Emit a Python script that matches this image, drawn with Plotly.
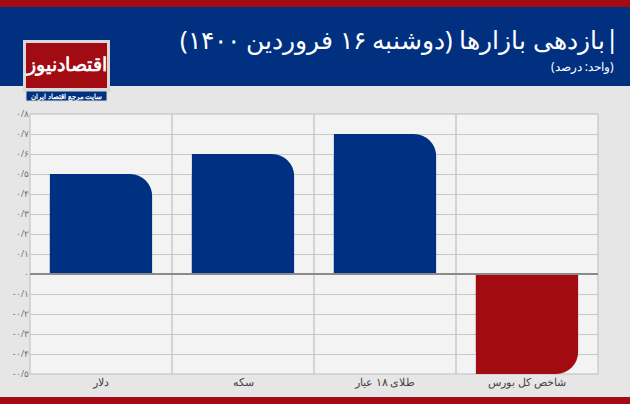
import plotly.graph_objects as go

# data
categories = ["دلار", "سکه", "طلای ۱۸ عیار", "شاخص کل بورس"]
values = [0.5, 0.6, 0.7, -0.5]
bar_colors = ["#003082", "#003082", "#003082", "#a30b12"]
tick_vals = [0.8, 0.7, 0.6, 0.5, 0.4, 0.3, 0.2, 0.1, 0, -0.1, -0.2, -0.3, -0.4, -0.5]
tick_text = ["۰/۸", "۰/۷", "۰/۶", "۰/۵", "۰/۴", "۰/۳", "۰/۲", "۰/۱", "۰",
             "-۰/۱", "-۰/۲", "-۰/۳", "-۰/۴", "-۰/۵"]

FONT = "Noto Sans"

fig = go.Figure()
# rounded bar (only the right corner should be rounded) ...
fig.add_trace(go.Bar(x=categories, y=values, marker_color=bar_colors,
                     marker_line_width=0, width=0.72))
# ... so cover the left half with a square one
fig.add_trace(go.Bar(x=categories, y=values, marker_color=bar_colors,
                     marker_line_width=0, width=0.4, offset=-0.36,
                     marker_cornerradius=0))


def py(p):  # pixel y -> paper y
    return (374 - p) / 260.0


def px_(p):  # pixel x -> paper x
    return (p - 30) / 568.0


shapes = [
    dict(type="rect", x0=px_(0), x1=px_(630), y0=py(86), y1=py(0),
         fillcolor="#00307f", line_width=0, layer="below"),
    dict(type="rect", x0=px_(0), x1=px_(630), y0=py(7), y1=py(0),
         fillcolor="#a30b12", line_width=0),
    dict(type="rect", x0=px_(0), x1=px_(630), y0=py(404), y1=py(397),
         fillcolor="#a30b12", line_width=0),
    dict(type="rect", x0=px_(23), x1=px_(110), y0=py(92), y1=py(40),
         fillcolor="#d9d9d9", line_width=0),
    dict(type="rect", x0=px_(26), x1=px_(107), y0=py(88), y1=py(43),
         fillcolor="#a30b12", line_width=0),
    dict(type="rect", x0=px_(26), x1=px_(107), y0=py(101), y1=py(91),
         fillcolor="#00307f", line=dict(color="#d9d9d9", width=1)),
]
for s in shapes:
    s.update(xref="paper", yref="paper")
for i in range(1, len(categories)):
    shapes.append(dict(type="line", xref="x", yref="paper", x0=i - 0.5, x1=i - 0.5, y0=0, y1=1,
                       line=dict(color="#b5b5b5", width=1), layer="below"))
shapes.append(dict(type="rect", xref="paper", yref="paper", x0=0, x1=1, y0=0, y1=1,
                   line=dict(color="#bdbdbd", width=1), layer="below"))
shapes.append(dict(type="line", xref="paper", yref="y", x0=0, x1=1, y0=0, y1=0,
                   line=dict(color="#8a8a8a", width=2)))

ann = [
    dict(text="|", x=px_(621), y=py(38), xanchor="right", yanchor="middle",
         font=dict(size=26, color="white", family=FONT)),
    dict(text="بازدهی بازارها (دوشنبه ۱۶ فروردین ۱۴۰۰)", x=px_(607), y=py(39), xanchor="right",
         yanchor="middle", font=dict(size=25, color="white", family=FONT)),
    dict(text="(واحد: درصد)", x=px_(616), y=py(66), xanchor="right", yanchor="middle",
         font=dict(size=12, color="white", family=FONT)),
    dict(text="<b>اقتصادنیوز</b>", x=px_(66), y=py(64), xanchor="center", yanchor="middle",
         font=dict(size=19, color="white", family=FONT)),
    dict(text="<b>سایت مرجع اقتصاد ایران</b>", x=px_(66), y=py(96), xanchor="center",
         yanchor="middle", font=dict(size=7, color="white", family=FONT)),
]
for a in ann:
    a.update(xref="paper", yref="paper", showarrow=False)

fig.update_layout(
    shapes=shapes,
    annotations=ann,
    width=630, height=404,
    margin=dict(l=30, r=32, t=114, b=30, autoexpand=False),
    paper_bgcolor="#e6e6e6", plot_bgcolor="#f3f3f3",
    barmode="overlay", barcornerradius=22, showlegend=False,
    font=dict(family=FONT, color="#555555"),
    xaxis=dict(showgrid=False, zeroline=False, range=[-0.5, 3.5],
               tickfont=dict(size=11, color="#444444")),
    yaxis=dict(range=[-0.5, 0.8], tickvals=tick_vals, ticktext=tick_text,
               gridcolor="#c8c8c8", zeroline=False, ticklen=0,
               tickfont=dict(size=9, color="#777777")),
)
# the page has a default 8px body margin; drop it so the figure fills the window
fig.write_html("out.html", config={"displayModeBar": False},
               post_script="document.body.style.margin='0';")
